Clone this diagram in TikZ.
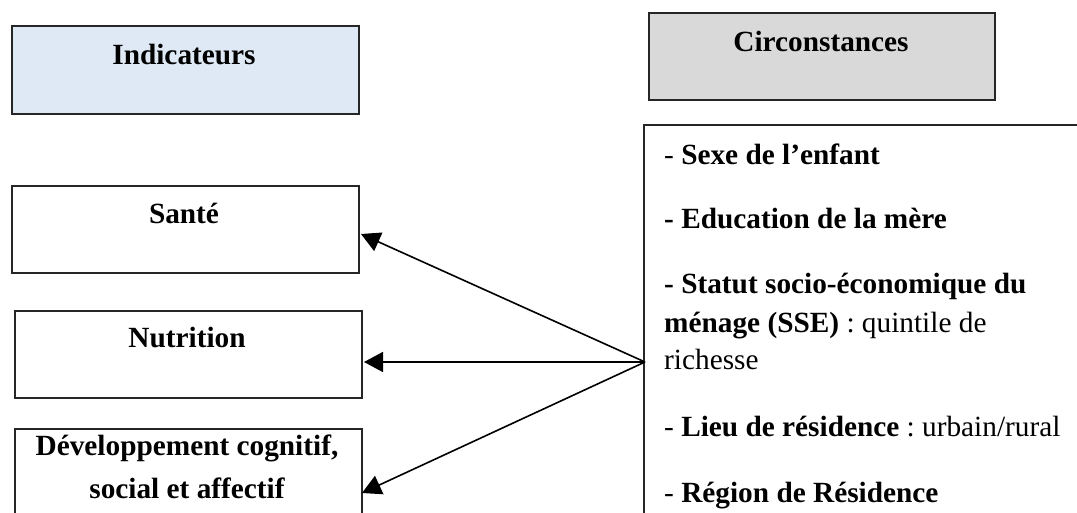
\documentclass[tikz,border=0pt]{standalone}
\usepackage{fontspec}
\setmainfont{Liberation Serif}
\usetikzlibrary{arrows.meta}
\definecolor{indblue}{HTML}{DEE9F5}
\definecolor{circgray}{HTML}{D9D9D9}
\frenchspacing
\begin{document}
\begin{tikzpicture}[x=1pt,y=-1pt,
  box/.style={draw=black!85, line width=1.6pt, anchor=north west, inner sep=0pt, minimum width=347pt},
  lbl/.style={font=\fontsize{29.3}{35}\selectfont\bfseries, align=center, inner sep=0pt, anchor=base},
  item/.style={font=\fontsize{29.3}{35}\selectfont, inner sep=0pt, anchor=base west},
  arr/.style={line width=1.6pt, -{Triangle[length=19pt,width=20pt]}}]
\clip (0,0) rectangle (1077,512);
% header boxes
\node[box, fill=indblue, minimum height=88pt] (ind) at (11,25) {};
\node[lbl] (indt) at (184,64) {Indicateurs};
\node[box, fill=circgray, minimum width=346pt, minimum height=87pt] (circ) at (648,12) {};
\node[lbl] (circt) at (821,51) {Circonstances};
% indicator boxes
\node[box, minimum height=87pt] (sante) at (11,185) {};
\node[lbl] (santet) at (184,223) {Santé};
\node[box, minimum height=87pt] (nutr) at (14,310) {};
\node[lbl] (nutrt) at (187,347) {Nutrition};
\node[box, minimum height=110pt] (dev) at (14,428) {};
\node[lbl] (devt1) at (187,455) {Développement cognitif,};
\node[lbl] (devt2) at (187,498) {social et affectif};
% circumstances list box
\node[box, minimum width=460pt, minimum height=420pt] (list) at (643,124) {};
\node[item] (l1) at (664,164) {- \textbf{Sexe de l’enfant}};
\node[item] (l2) at (664,228) {\textbf{- Education de la mère}};
\node[item] (l3) at (664,293) {\textbf{- Statut socio-économique du}};
\node[item] (l4) at (664,332) {\textbf{ménage (SSE)} : quintile de};
\node[item] (l5) at (664,369) {richesse};
\node[item] (l6) at (664,436) {- \textbf{Lieu de résidence} : urbain/rural};
\node[item] (l7) at (664,502) {- \textbf{Région de Résidence}};
% arrows
\coordinate (src) at (645,362);
\coordinate (tsante) at (361,234);
\coordinate (tnutr) at (364,362);
\coordinate (tdev) at (362,493);
\draw[arr] (src) -- (tsante);
\draw[arr] (src) -- (tnutr);
\draw[arr] (src) -- (tdev);
\end{tikzpicture}
\end{document}
